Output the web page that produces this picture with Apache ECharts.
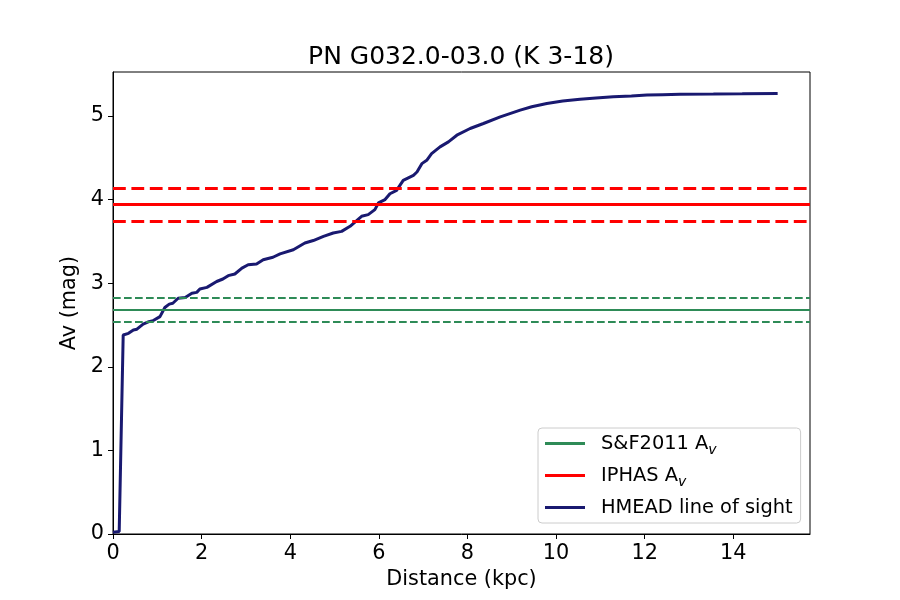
<!DOCTYPE html>
<html>
<head>
<meta charset="utf-8">
<script src="https://cdn.jsdelivr.net/npm/echarts@6/dist/echarts.min.js"></script>
<style>
  html, body { margin: 0; padding: 0; background: #fff; }
  #container { width: 900px; height: 600px; }
</style>
</head>
<body>
<div id="container"></div>
<script>
// HMEAD line of sight
var distance = [0, 0.14, 0.23, 0.35, 0.46, 0.54, 0.68, 0.81, 0.90, 1.06, 1.17, 1.27, 1.35, 1.47,
    1.63, 1.78, 1.89, 1.96, 2.12, 2.34, 2.48, 2.60, 2.75, 2.91, 3.05, 3.24, 3.39, 3.61, 3.77,
    4.07, 4.33, 4.52, 4.75, 4.97, 5.16, 5.35, 5.61, 5.76, 5.91, 5.99, 6.14, 6.25, 6.40, 6.55,
    6.78, 6.86, 6.97, 7.08, 7.19, 7.38, 7.57, 7.76, 8.06, 8.36, 8.74, 9.19, 9.45, 9.79, 10.15,
    10.54, 10.9, 11.29, 11.7, 12.05, 12.4, 12.80, 13.55, 14.2, 15.0];
var av = [0.02, 0.03, 2.38, 2.40, 2.44, 2.45, 2.51, 2.54, 2.55, 2.60, 2.71, 2.75, 2.76, 2.82,
    2.83, 2.88, 2.89, 2.93, 2.95, 3.02, 3.05, 3.09, 3.11, 3.18, 3.22, 3.23, 3.28, 3.31, 3.35,
    3.40, 3.48, 3.51, 3.56, 3.60, 3.62, 3.68, 3.80, 3.82, 3.88, 3.96, 4.00, 4.07, 4.11, 4.23,
    4.29, 4.33, 4.43, 4.47, 4.55, 4.63, 4.69, 4.77, 4.85, 4.91, 4.99, 5.07, 5.11, 5.15, 5.18,
    5.20, 5.215, 5.23, 5.24, 5.25, 5.255, 5.26, 5.262, 5.265, 5.27];

// horizontal reference values: [value, lower, upper]
var sf2011 = [2.679, 2.536, 2.823];
var iphas = [3.947, 3.744, 4.127];

var xTicks = [0, 2, 4, 6, 8, 10, 12, 14];
var yTicks = [0, 1, 2, 3, 4, 5];

var seriesNames = ['S&F2011 A_v', 'IPHAS A_v', 'HMEAD line of sight'];

function graficoAv() {
    var dom = document.getElementById('container');
    var myChart = echarts.init(dom);
    var font = 'DejaVu Sans';

    function bandLines(vals, width, dash) {
        return [
            { yAxis: vals[0], lineStyle: { type: 'solid', width: width } },
            { yAxis: vals[1], lineStyle: { type: dash, width: width } },
            { yAxis: vals[2], lineStyle: { type: dash, width: width } }
        ];
    }

    var option = {
        animation: false,
        textStyle: { fontFamily: font },
        title: {
            text: 'PN G032.0-03.0 (K 3-18)',
            left: 456,
            textAlign: 'center',
            top: 40,
            textStyle: { fontFamily: font, fontSize: 25, fontWeight: 'normal', color: '#000' }
        },
        grid: {
            left: 113, right: 90, top: 72, bottom: 66,
            show: true, borderColor: '#000', borderWidth: 1
        },
        legend: {
            orient: 'vertical',
            left: 538,
            top: 428,
            width: 262,
            padding: [6, 8, 6, 7],
            itemGap: 9,
            itemWidth: 40,
            itemHeight: 3,
            icon: 'rect',
            borderColor: '#cccccc',
            borderWidth: 1,
            borderRadius: 4,
            backgroundColor: 'rgba(255,255,255,0.8)',
            data: seriesNames,
            formatter: function (name) {
                if (name.indexOf('_v') > 0) {
                    return '{a|' + name.replace('_v', '') + '}{s|v}';
                }
                return '{a|' + name + '}';
            },
            textStyle: {
                color: '#000',
                fontFamily: font,
                fontSize: 19.4,
                rich: {
                    a: { fontFamily: font, fontSize: 19.4, color: '#000', padding: [0, 0, 0, 11] },
                    s: { fontFamily: font, fontSize: 14, fontStyle: 'italic', color: '#000',
                         verticalAlign: 'bottom', padding: [0, 0, -4, 0] }
                }
            }
        },
        xAxis: {
            type: 'value',
            min: 0,
            max: 15.73,
            interval: 2,
            name: 'Distance (kpc)',
            nameLocation: 'middle',
            nameGap: 34,
            nameTextStyle: { fontFamily: font, fontSize: 20.8, color: '#000' },
            splitLine: { show: false },
            axisLine: { lineStyle: { color: '#000', width: 1 } },
            axisTick: { inside: false, length: 5, lineStyle: { color: '#000' }, customValues: xTicks },
            axisLabel: { fontFamily: font, fontSize: 20.8, color: '#000', margin: 9, customValues: xTicks }
        },
        yAxis: {
            type: 'value',
            min: 0,
            max: 5.526,
            interval: 1,
            name: 'Av (mag)',
            nameLocation: 'middle',
            nameGap: 27,
            nameTextStyle: { fontFamily: font, fontSize: 20.8, color: '#000' },
            splitLine: { show: false },
            axisLine: { show: true, lineStyle: { color: '#000', width: 1 } },
            axisTick: { show: true, inside: false, length: 5, lineStyle: { color: '#000' }, customValues: yTicks },
            axisLabel: { fontFamily: font, fontSize: 20.8, color: '#000', margin: 9, customValues: yTicks }
        },
        series: [
            {
                name: seriesNames[0],
                type: 'line',
                data: [],
                color: '#2e8b57',
                lineStyle: { width: 2 },
                markLine: {
                    silent: true,
                    symbol: 'none',
                    label: { show: false },
                    lineStyle: { color: '#2e8b57' },
                    data: bandLines(sf2011, 2, [7.7, 3.3])
                }
            },
            {
                name: seriesNames[1],
                type: 'line',
                data: [],
                color: '#ff0000',
                lineStyle: { width: 3 },
                markLine: {
                    silent: true,
                    symbol: 'none',
                    label: { show: false },
                    lineStyle: { color: '#ff0000' },
                    data: bandLines(iphas, 3, [12.8, 5.6])
                }
            },
            {
                name: seriesNames[2],
                type: 'line',
                data: distance.map(function (d, i) { return [d, av[i]]; }),
                color: '#191970',
                showSymbol: false,
                symbol: 'none',
                lineStyle: { width: 3, color: '#191970' }
            }
        ]
    };

    if (option && typeof option === 'object') {
        myChart.setOption(option);
    }
}
graficoAv();
</script>
</body>
</html>
